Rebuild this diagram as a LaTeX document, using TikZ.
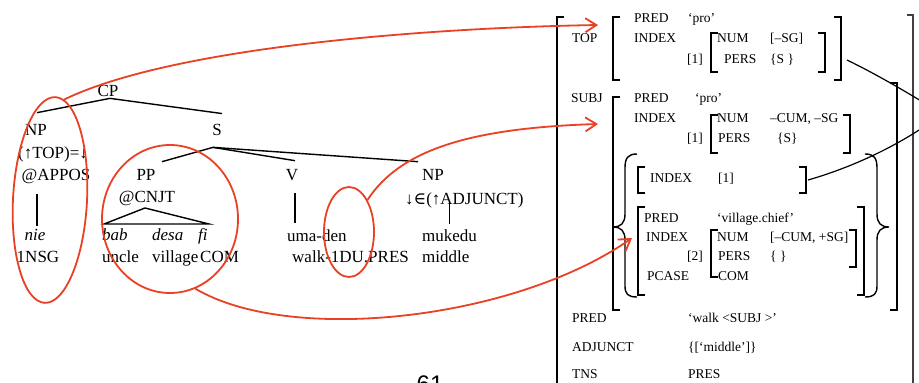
\documentclass[tikz,border=0pt]{standalone}
\usepackage{fontspec}
\setmainfont{Liberation Serif}
\newfontfamily\symbfont{DejaVu Serif}
\newfontfamily\pagefont{Liberation Sans}
\usetikzlibrary{arrows.meta,shapes.geometric}

\definecolor{hilite}{RGB}{234,64,36}

% square brackets of the f-structure: x, top, bottom
\newcommand{\openbr}[3]{\draw[bar] ({#1+7},#2) -- (#1,#2) -- (#1,#3) -- ({#1+7},#3);}
\newcommand{\closebr}[3]{\draw[bar] ({#1-7},#2) -- (#1,#2) -- (#1,#3) -- ({#1-7},#3);}

\begin{document}
\begin{tikzpicture}[x=1pt, y=-1pt,
    tree/.style={anchor=base, inner sep=0pt, font=\fontsize{17}{20}\selectfont},
    avm/.style={anchor=base west, inner sep=0pt, font=\fontsize{13.5}{16}\selectfont},
    bar/.style={line width=1.4pt},
    ring/.style={draw=hilite, line width=1.8pt, ellipse, inner sep=0pt},
    redlink/.style={hilite, line width=1.8pt, -{Straight Barb[length=11pt,width=14pt]}},
    tie/.style={line width=1.2pt}]
    \fill[white] (0,0) rectangle (919,383);
    \useasboundingbox (0,0) rectangle (919,383);
    \clip (0,0) rectangle (919,383);

    % c-structure
    \node[tree] (cp) at (108,96) {CP};
    \node[tree] (np1) at (36,135) {NP};
    \node[tree] (s) at (217,135) {S};
    \node[tree] (topeq) at (53,158) {(↑TOP)=↓};
    \node[tree] (appos) at (56,180) {@APPOS};
    \node[tree] (nie) at (35,240) {\itshape nie};
    \node[tree] (nsg) at (38,262) {1NSG};
    \node[tree] (pp) at (146,180) {PP};
    \node[tree] (cnjt) at (147,202) {@CNJT};
    \node[tree, anchor=base west] (bab) at (102,240) {\itshape bab};
    \node[tree, anchor=base west] (desa) at (152,240) {\itshape desa};
    \node[tree, anchor=base west] (fi) at (198,240) {\itshape fi};
    \node[tree, anchor=base west] (uncle) at (102,262) {uncle};
    \node[tree, anchor=base west] (village) at (152,262) {village};
    \node[tree, anchor=base west] (com) at (200,262) {COM};
    \node[tree] (v) at (292,180) {V};
    \node[tree, anchor=base west] (umaden) at (287,241) {uma-den};
    \node[tree, anchor=base west] (walk) at (292,262) {walk-1DU.PRES};
    \node[tree] (np2) at (433,180) {NP};
    \node[tree, anchor=base west] (adj) at (405,204) {↓{\symbfont ∈}(↑ADJUNCT)};
    \node[tree, anchor=base west] (mukedu) at (422,241) {mukedu};
    \node[tree, anchor=base west] (middle) at (422,262) {middle};

    % branches
    \draw[bar] ([xshift=2pt,yshift=-2pt]cp.south) -- ([xshift=1pt,yshift=11pt]np1.north);
    \draw[bar] ([xshift=2pt,yshift=-2pt]cp.south) -- ([xshift=5pt,yshift=10pt]s.north);
    \draw[bar] ([xshift=-4pt,yshift=-12pt]s.south) -- ([xshift=16pt,yshift=7pt]pp.north);
    \draw[bar] ([xshift=-4pt,yshift=-12pt]s.south) -- ([xshift=3pt,yshift=8pt]v.north);
    \draw[bar] ([xshift=-4pt,yshift=-12pt]s.south) -- ([xshift=-15pt,yshift=7pt]np2.north);
    \draw[bar] ([xshift=2pt,yshift=3pt]nie.north) -- ++(0,-32);
    \draw[bar] ([xshift=3pt,yshift=-13pt]v.south) -- ++(0,30);
    \draw[bar] ([yshift=5pt]mukedu.north) -- ++(0,-22);
    \draw[bar] (104,224) -- (145,208) -- (209,224) -- cycle;

    % f-structure
    \node[avm] (top) at (572,42) {TOP};
    \node[avm] (tpred) at (634,22) {PRED};
    \node[avm] (tprov) at (688,22) {‘pro’};
    \node[avm] (tindex) at (634,42) {INDEX};
    \node[avm] (tnum) at (717,42) {NUM};
    \node[avm] (tnumv) at (770,42) {[–SG]};
    \node[avm] (tidx) at (687,63) {[1]};
    \node[avm] (tpers) at (724,63) {PERS};
    \node[avm] (tpersv) at (770,63) {\{S \}};

    \node[avm] (subj) at (571,102) {SUBJ};
    \node[avm] (spred) at (634,102) {PRED};
    \node[avm] (sprov) at (695,102) {‘pro’};
    \node[avm] (sindex) at (634,122) {INDEX};
    \node[avm] (snum) at (717,122) {NUM};
    \node[avm] (snumv) at (770,122) {–CUM, –SG};
    \node[avm] (sidx) at (687,142) {[1]};
    \node[avm] (spers) at (718,142) {PERS};
    \node[avm] (spersv) at (777,142) {\{S\}};

    \node[avm] (aindex) at (650,182) {INDEX};
    \node[avm] (aidx) at (718,182) {[1]};

    \node[avm] (cpred) at (644,222) {PRED};
    \node[avm] (cpredv) at (717,222) {‘village.chief’};
    \node[avm] (cindex) at (646,241) {INDEX};
    \node[avm] (cnum) at (717,241) {NUM};
    \node[avm] (cnumv) at (770,241) {[–CUM, +SG]};
    \node[avm] (cidx) at (687,260) {[2]};
    \node[avm] (cpers) at (718,260) {PERS};
    \node[avm] (cpersv) at (770,260) {\{ \}};
    \node[avm] (cpcase) at (647,280) {PCASE};
    \node[avm] (ccom) at (718,280) {COM};

    \node[avm] (pred) at (572,322) {PRED};
    \node[avm] (predv) at (688,322) {‘walk <SUBJ >’};
    \node[avm] (adjunct) at (572,351) {ADJUNCT};
    \node[avm] (adjunctv) at (688,351) {\{[‘middle’]\}};
    \node[avm] (tns) at (572,378) {TNS};
    \node[avm] (tnsv) at (688,378) {PRES};

    % brackets
    \openbr{557}{17}{400}
    \openbr{613}{17}{80}   \closebr{841}{17}{80}
    \openbr{711}{33}{72}   \closebr{825}{33}{72}
    \openbr{613}{97}{310}  \closebr{897}{83}{310}
    \openbr{711}{115}{153} \closebr{850}{115}{153}
    \openbr{638}{167}{193} \closebr{806}{167}{193}
    \openbr{638}{207}{295} \closebr{864}{207}{295}
    \openbr{711}{230}{277} \closebr{856}{230}{267}
    \draw[line width=2.4pt, black!75] (907,15) -- (913,15) -- (913,400);

    % set braces
    \draw[bar] (637,154) .. controls (628,154) and (625,158) .. (625,168) -- (625,214)
        .. controls (625,223) and (621,227) .. (613,227)
        .. controls (621,227) and (625,231) .. (625,240) -- (625,286)
        .. controls (625,294) and (628,297) .. (637,297);
    \draw[bar] (865,154) .. controls (874,154) and (877,158) .. (877,168) -- (877,214)
        .. controls (877,223) and (881,227) .. (889,227)
        .. controls (881,227) and (877,231) .. (877,240) -- (877,286)
        .. controls (877,294) and (874,297) .. (865,297);

    % structure sharing
    \coordinate (share) at (942,114);
    \draw[tie] (847,60) .. controls (880,76) and (915,97) .. (share);
    \draw[tie] (808,180) .. controls (850,168) and (900,146) .. (share);

    % correspondences
    \node[ring, minimum width=74, minimum height=206, rotate=-3] (e1) at (50,200) {};
    \node[ring, minimum width=136, minimum height=148] (e2) at (170,219) {};
    \node[ring, minimum width=50, minimum height=90] (e3) at (349,232) {};
    \coordinate (topin) at (598,25);
    \coordinate (subjin) at (598,124);
    \coordinate (chiefin) at (632,238);
    \draw[redlink] (e1.85) .. controls (170,48) and (420,28) .. (topin);
    \draw[redlink] (e3.60) .. controls (400,150) and (470,128) .. (subjin);
    \draw[redlink] (e2.-70) .. controls (290,345) and (515,320) .. (chiefin);

    % page number
    \node[anchor=north, inner sep=0pt, font=\pagefont\fontsize{24}{28}\selectfont] (pageno) at (430,376) {61};
\end{tikzpicture}
\end{document}
